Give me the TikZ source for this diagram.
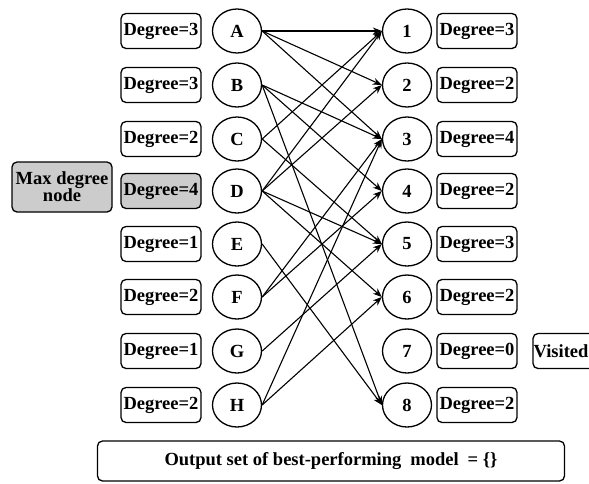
\documentclass[tikz,border=0pt]{standalone}
\usepackage{fontspec}
\setmainfont{Liberation Serif}
\usetikzlibrary{arrows.meta,shapes.geometric}
\begin{document}
\begin{tikzpicture}[x=1pt,y=-1pt,
  every node/.style={font=\bfseries\fontsize{18.5}{20}\selectfont},
  vtx/.style={draw, line width=1.3pt, ellipse, minimum width=49pt, minimum height=44pt, inner sep=0pt},
  degbox/.style={draw, line width=1.3pt, rounded corners=5pt, minimum width=80pt, minimum height=35pt, inner sep=0pt},
  hl/.style={fill=gray!40},
  link/.style={line width=1.1pt, -{Stealth[length=9pt,width=7pt]}}
]
\clip (0,0) rectangle (589,483);

% left column: sources with their degree boxes
\foreach \n/\y/\d in {A/31/3, B/85/3, C/139/2, E/244/1, F/297/2, G/351/1, H/405/2}{
  \node[vtx] (\n) at (237,\y) {\n};
  \node[degbox] (d\n) at (161,\y) {Degree=\d};
}
\node[vtx] (D) at (237,191) {D};
\node[degbox,hl] (dD) at (161,191) {Degree=4};
\node[degbox,hl,minimum width=100pt,minimum height=50pt,align=center] (maxd) at (62,187) {Max degree\\[-3pt]node};

% right column: targets with their degree boxes
\foreach \n/\y/\d in {1/31/3, 2/85/2, 3/139/4, 4/191/2, 5/244/3, 6/297/2, 7/351/0, 8/405/2}{
  \node[vtx] (t\n) at (407,\y) {\n};
  \node[degbox] (e\n) at (477,\y) {Degree=\d};
}
\node[degbox,minimum width=64pt] (vis) at (565,351) {\hspace{-8pt}Visited};

% output box
\node[degbox,minimum width=467pt,minimum height=40pt] (out) at (331,461)
  {Output set of best-performing\hspace{9pt}model\hspace{9pt}= \{\}};

% edges
\foreach \s/\t in {A/1, A/2, A/3, B/3, B/4, B/8, C/1, C/5, D/1, D/2, D/5, D/6,
                   E/8, F/3, F/4, G/5, H/3, H/6}{
  \draw[link] (\s.east) -- (t\t.west);
}
\end{tikzpicture}
\end{document}
